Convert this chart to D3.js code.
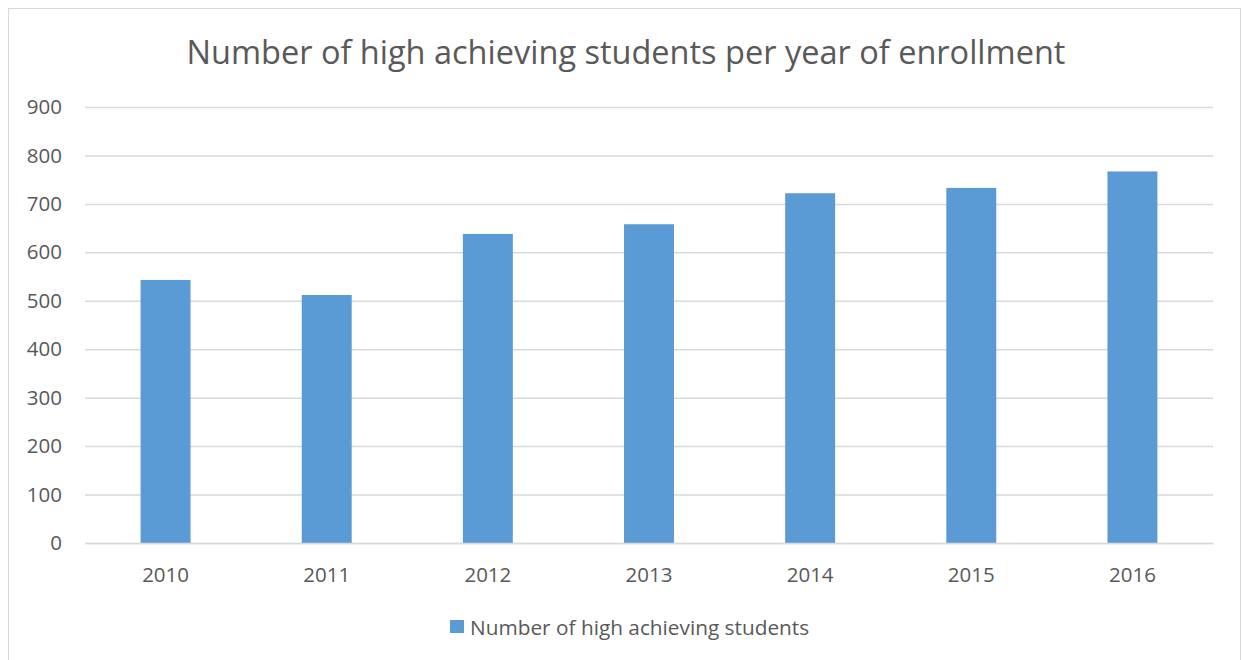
<!DOCTYPE html>
<html><head><meta charset="utf-8">
<script src="https://cdn.jsdelivr.net/npm/d3@7"></script>
<style>html,body{margin:0;padding:0;background:#fff;}svg{display:block;}</style>
</head><body>
<svg id="c" width="1242" height="660"></svg>
<script>
const categories = ["2010","2011","2012","2013","2014","2015","2016"];
const values = [543, 512, 638, 658, 722, 733, 767];
const yTicks = [0,100,200,300,400,500,600,700,800,900];
const seriesName = "Number of high achieving students";
const title = "Number of high achieving students per year of enrollment";

(function(){
const svg = d3.select("#c");
const font = "Open Sans, Liberation Sans, sans-serif";
const textColor = "#595959";
const pL = 85, pR = 1213, pT = 107, pB = 543;

svg.append("rect").attr("x",8.5).attr("y",8.5).attr("width",1232).attr("height",700)
  .attr("fill","#fff").attr("stroke","#D9D9D9").attr("stroke-width",1);

const x = d3.scaleBand().domain(categories).range([pL,pR]).paddingInner(0.69).paddingOuter(0.345);
const y = d3.scaleLinear().domain([0,900]).range([pB,pT]);

svg.append("text").attr("x",626).attr("y",64).attr("text-anchor","middle")
  .attr("font-family",font).attr("font-size",32.5).attr("fill",textColor).text(title);

const yAxis = svg.append("g").attr("transform",`translate(${pL},0)`)
  .call(d3.axisLeft(y).tickValues(yTicks).tickSize(-(pR-pL)).tickPadding(23));
yAxis.select(".domain").remove();
yAxis.selectAll(".tick line").attr("stroke","#D9D9D9").attr("stroke-width",1.5);
yAxis.selectAll(".tick text").attr("font-family",font).attr("font-size",20.5).attr("fill",textColor);

svg.append("g").selectAll("rect").data(categories).join("rect")
  .attr("x",d=>x(d)).attr("width",x.bandwidth())
  .attr("y",(d,i)=>y(values[i])).attr("height",(d,i)=>y(0)-y(values[i]))
  .attr("fill","#5B9BD5");

const xAxis = svg.append("g").attr("transform",`translate(0,${pB})`)
  .call(d3.axisBottom(x).tickSize(0).tickPadding(24));
xAxis.select(".domain").attr("stroke","#D9D9D9").attr("stroke-width",1.5);
xAxis.selectAll(".tick text").attr("font-family",font).attr("font-size",20.5).attr("fill",textColor);

const lg = svg.append("g");
lg.append("rect").attr("x",450).attr("y",620).attr("width",14).attr("height",13).attr("fill","#5B9BD5");
lg.append("text").attr("x",470).attr("y",635).attr("font-family",font).attr("font-size",20.8)
  .attr("fill",textColor).text(seriesName);
})();
</script>
</body></html>
